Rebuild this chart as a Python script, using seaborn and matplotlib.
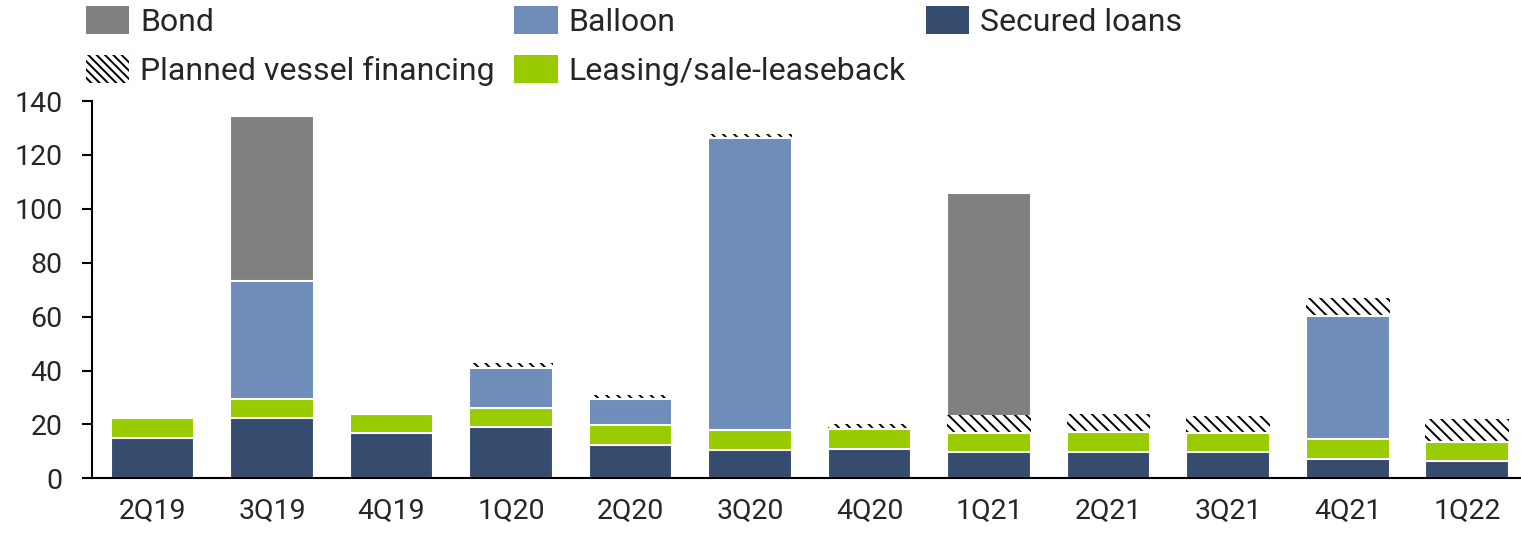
import numpy as np
import pandas as pd
import matplotlib
matplotlib.use("Agg")
import matplotlib.pyplot as plt
from matplotlib.patches import Patch
import seaborn as sns

# Quarterly financing volumes by source
quarters = ["2Q19", "3Q19", "4Q19", "1Q20", "2Q20", "3Q20",
            "4Q20", "1Q21", "2Q21", "3Q21", "4Q21", "1Q22"]
secured_loans = [15.1, 22.3, 16.7, 18.9, 12.5, 10.5, 10.9, 9.6, 9.9, 9.6, 7.2, 6.3]
leasing = [7.2, 7.1, 7.2, 7.1, 7.3, 7.4, 7.4, 7.3, 7.3, 7.3, 7.4, 7.3]
balloon = [0.0, 43.9, 0.0, 15.1, 9.5, 108.2, 0.0, 0.0, 0.0, 0.0, 45.8, 0.0]
planned_vessel = [0.0, 0.0, 0.0, 1.6, 1.7, 1.7, 1.7, 6.6, 6.6, 6.4, 6.4, 8.3]
bond = [0.0, 61.2, 0.0, 0.0, 0.0, 0.0, 0.0, 82.3, 0.0, 0.0, 0.0, 0.0]

COL_BOND = "#808080"
COL_BALLOON = "#6E8DB8"
COL_SECURED = "#364C6E"
COL_LEASING = "#99CC00"

sns.set_style("white")
plt.rcParams["font.family"] = ["Roboto", "DejaVu Sans"]
plt.rcParams["hatch.linewidth"] = 1.4
plt.rcParams["hatch.color"] = "black"
TICK_FS = 20.5
LEGEND_FS = 23

df = pd.DataFrame({
    "quarter": quarters,
    "secured": secured_loans,
    "leasing": leasing,
    "balloon": balloon,
    "planned": planned_vessel,
    "bond": bond,
})
# cumulative tops for stacking (bottom -> top)
df["c_secured"] = df["secured"]
df["c_leasing"] = df["c_secured"] + df["leasing"]
df["c_balloon"] = df["c_leasing"] + df["balloon"]
df["c_planned"] = df["c_balloon"] + df["planned"]
df["c_bond"] = df["c_planned"] + df["bond"]

fig = plt.figure(figsize=(15.21, 5.34), dpi=100)
ax = fig.add_axes([92 / 1521, (534 - 478.3) / 534, 1 - 92 / 1521, (478.3 - 101) / 534])

common = dict(x="quarter", order=quarters, width=0.7, errorbar=None, ax=ax)

# draw the cumulative layers from the tallest down so each one covers the next
sns.barplot(data=df, y="c_bond", color=COL_BOND, edgecolor="white",
            linewidth=1.5, saturation=1, **common)
sns.barplot(data=df, y="c_planned", color="white", edgecolor="black",
            linewidth=0, hatch="\\\\\\", saturation=1, **common)
sns.barplot(data=df, y="c_balloon", color=COL_BALLOON, edgecolor="white",
            linewidth=1.5, saturation=1, **common)
sns.barplot(data=df, y="c_leasing", color=COL_LEASING, edgecolor="white",
            linewidth=1.5, saturation=1, **common)
sns.barplot(data=df, y="c_secured", color=COL_SECURED, edgecolor="white",
            linewidth=1.5, saturation=1, **common)

ax.set_xlim(-0.506, 11.45)
ax.set_ylim(0, 140)
ax.set_yticks(np.arange(0, 141, 20))
ax.set_xlabel("")
ax.set_ylabel("")

for s in ["top", "right"]:
    ax.spines[s].set_visible(False)
for s in ["left", "bottom"]:
    ax.spines[s].set_color("black")
    ax.spines[s].set_linewidth(1.5)

ax.tick_params(axis="y", which="both", direction="out", length=7.2, width=1.5,
               color="black", pad=14, labelsize=TICK_FS, left=True)
ax.tick_params(axis="x", length=0, pad=14, labelsize=TICK_FS)

handles = [
    Patch(facecolor=COL_BOND, edgecolor="none", label="Bond"),
    Patch(facecolor="white", edgecolor="black", linewidth=0, hatch="\\\\\\\\",
          label="Planned vessel financing"),
    Patch(facecolor=COL_BALLOON, edgecolor="none", label="Balloon"),
    Patch(facecolor=COL_LEASING, edgecolor="none", label="Leasing/sale-leaseback"),
    Patch(facecolor=COL_SECURED, edgecolor="none", label="Secured loans"),
]
fig.legend(handles=handles, loc="upper left", bbox_to_anchor=(80 / 1521, 1.0),
           ncol=3, frameon=False, fontsize=LEGEND_FS, borderpad=0.18, borderaxespad=0,
           handlelength=1.35, handleheight=0.97, handletextpad=0.35,
           columnspacing=0.62, labelspacing=0.57)

fig.savefig("out.png", dpi=100)
